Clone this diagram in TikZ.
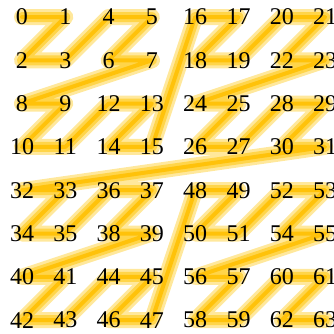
\documentclass[tikz,border=0pt]{standalone}
\usepackage{fontspec}
\setmainfont{Liberation Serif}
\usetikzlibrary{backgrounds}
\definecolor{pale}{HTML}{FFE89C}
\definecolor{mid}{HTML}{FFD54A}
\definecolor{gold}{HTML}{FFC20A}

\begin{document}
\begin{tikzpicture}[
  x=43.3pt,y=-43.3pt,
  num/.style={inner sep=0pt,font=\fontsize{24}{24}\selectfont},
  band/.style={line cap=round,line join=round}]
\useasboundingbox (-22pt,17pt) rectangle (312pt,-316pt);
% numbers in z-order
\foreach \i in {0,...,63}{
  \pgfmathtruncatemacro\cx{mod(\i,2)+2*mod(int(\i/4),2)+4*mod(int(\i/16),2)}
  \pgfmathtruncatemacro\cy{mod(int(\i/2),2)+2*mod(int(\i/8),2)+4*mod(int(\i/32),2)}
  \node[num] (n\i) at (\cx,\cy) {\i};
}
% glowing curve behind them
\begin{scope}[on background layer]
\foreach \w/\c in {16/pale,10/mid,4/gold}
  \draw[band,\c,line width=\w pt] (n0.center) \foreach \i in {1,...,63}{-- (n\i.center)};
\end{scope}
\end{tikzpicture}
\end{document}
